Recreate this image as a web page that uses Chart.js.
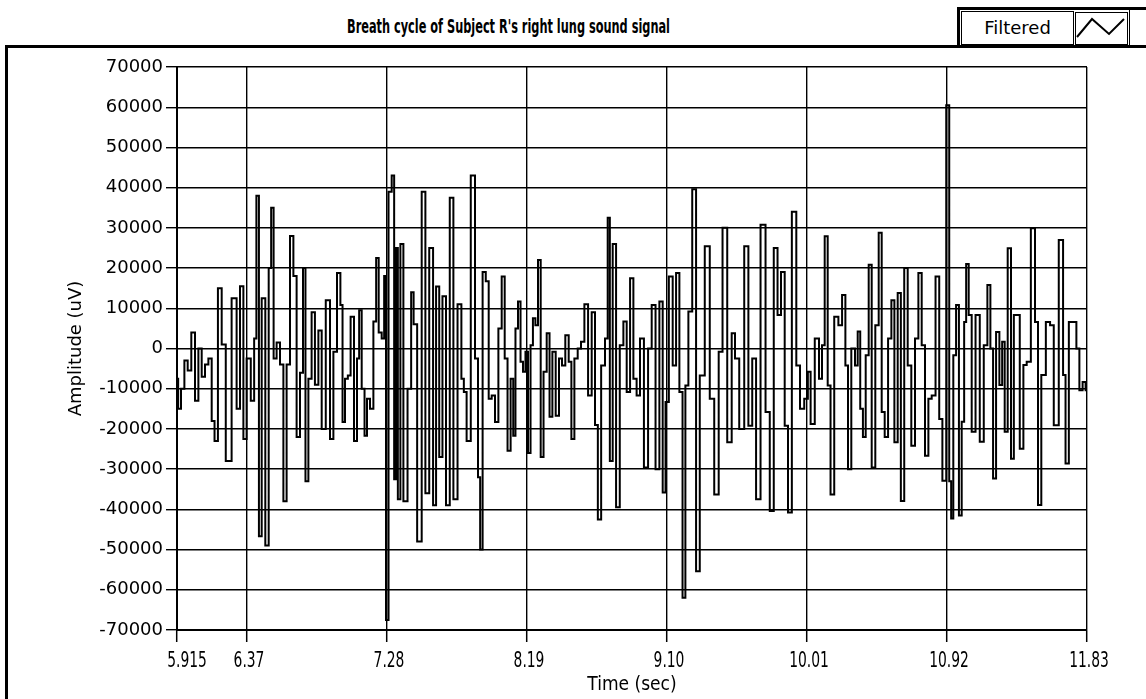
<!DOCTYPE html>
<html>
<head>
<meta charset="utf-8">
<script src="https://cdn.jsdelivr.net/npm/chart.js@4.4.1/dist/chart.umd.min.js"></script>
<style>
    html, body { margin: 0; padding: 0; background: #fff; }
    body { width: 1146px; height: 699px; position: relative; overflow: hidden; }
    #wrap { position: absolute; left: 0; top: 0; width: 1146px; height: 699px; }
    .frame { position: absolute; left: 5px; top: 45px; width: 1200px; height: 651px;
             border-left: 3px solid #000; border-top: 3px solid #000; border-bottom: 2px solid #777; }
    .legend { position: absolute; left: 957px; top: 7px; width: 200px; height: 38px;
              border-left: 3px solid #000; border-top: 3px solid #000; }
    .lg-name { position: absolute; left: 961px; top: 11px; width: 111px; height: 32px;
               border: 1px solid #000; font: 18px "DejaVu Sans", sans-serif; line-height: 32px;
               text-align: center; color: #000; }
    .lg-icon { position: absolute; left: 1075px; top: 12px; width: 51px; height: 31px; border: 1px solid #000; }
    .lg-end { position: absolute; left: 1129px; top: 10px; width: 1px; height: 35px; background: #000; }
    #title { position: absolute; left: 0; top: 0; }
</style>
</head>
<body>
<div class="frame"></div>
<svg id="title" width="1146" height="45">
    <text x="347" y="33" textLength="323" lengthAdjust="spacingAndGlyphs"
          font-family="DejaVu Sans Condensed, sans-serif" font-weight="bold" font-size="19">Breath cycle of Subject R's right lung sound signal</text>
</svg>
<div class="legend"></div>
<div class="lg-name">Filtered</div>
<div class="lg-icon">
    <svg width="51" height="31"><polyline points="1,24 16,6 33,21 48,6" fill="none" stroke="#000" stroke-width="2"/></svg>
</div>
<div class="lg-end"></div>
<div id="wrap"><canvas id="lung-chart" width="1146" height="699"></canvas></div>

<script>
// 시간 (sec) - 그림에서 읽은 꼭짓점 위치
const times = [
    5.915, 5.930, 5.952, 5.974, 5.995, 6.021, 6.043, 6.065, 6.086, 6.108, 6.130, 6.151, 6.167, 6.195, 6.216, 6.248, 6.292, 6.313, 6.336, 6.357, 6.378, 6.411, 6.422, 6.440, 6.455, 6.476, 6.502, 6.520, 6.534, 6.552, 6.573, 6.596, 6.617, 6.638, 6.661, 6.682, 6.703, 6.726, 6.742, 6.758, 6.780, 6.800, 6.823, 6.845, 6.866, 6.898,
    6.921, 6.942, 6.968, 6.986, 6.996, 7.018, 7.033, 7.054, 7.077, 7.093, 7.105, 7.126, 7.142, 7.158, 7.181, 7.202, 7.217, 7.235, 7.256, 7.267, 7.280, 7.300, 7.321, 7.332, 7.343, 7.358, 7.376, 7.397, 7.430, 7.444, 7.462, 7.490, 7.521, 7.538, 7.571, 7.588, 7.610, 7.629, 7.652, 7.675, 7.701, 7.722, 7.755, 7.772, 7.787, 7.808, 7.841, 7.863, 7.880, 7.891, 7.912,
    7.932, 7.950, 7.971, 7.993, 8.015, 8.036, 8.054, 8.073, 8.094, 8.107, 8.123, 8.140, 8.156, 8.172, 8.188, 8.205, 8.221, 8.236, 8.253, 8.270, 8.288, 8.307, 8.329, 8.344, 8.366, 8.387, 8.409, 8.426, 8.452, 8.470, 8.487, 8.509, 8.530, 8.552, 8.574, 8.600, 8.621, 8.643, 8.658, 8.686, 8.708, 8.721, 8.736, 8.758, 8.780, 8.806, 8.827, 8.849, 8.871, 8.892, 8.913,
    8.936, 8.964, 8.990, 9.011, 9.040, 9.061, 9.083, 9.098, 9.126, 9.148, 9.170, 9.191, 9.211, 9.228, 9.250, 9.278, 9.300, 9.326, 9.365, 9.391, 9.423, 9.449, 9.473, 9.510, 9.531, 9.553, 9.586, 9.618, 9.640, 9.668, 9.690, 9.726, 9.755, 9.781, 9.807, 9.830, 9.852, 9.878, 9.895, 9.928,
    9.953, 9.976, 10.008, 10.023, 10.044, 10.077, 10.099, 10.116, 10.134, 10.155, 10.171, 10.203, 10.225, 10.251, 10.268, 10.285, 10.311, 10.333, 10.346, 10.366, 10.381, 10.402, 10.420, 10.441, 10.467, 10.485, 10.506, 10.524, 10.550, 10.567, 10.589, 10.610, 10.630, 10.654, 10.675, 10.701, 10.723, 10.745, 10.766, 10.788, 10.810, 10.831, 10.860, 10.879, 10.901,
    10.929, 10.940, 10.954, 10.968, 10.990, 11.005, 11.026, 11.037, 11.052, 11.070, 11.091, 11.120, 11.146, 11.172, 11.193, 11.211, 11.228, 11.250, 11.271, 11.286, 11.304, 11.325, 11.347, 11.362, 11.380, 11.406, 11.427, 11.449, 11.481, 11.503, 11.520, 11.546, 11.579, 11.601, 11.627, 11.666, 11.683, 11.698, 11.726, 11.752, 11.770, 11.791, 11.812, 11.830
];

// 진폭 (uV) - 줄마다 times 와 같은 개수
const amplitudes = [
    -7500, -15000, -10000, -3000, -5500, 4000, -13000, 0, -7000, -4000, -2500, -18000, -23000, 15000, 1000, -28000, 12500, -15000, 15500, -22500, -2500, -13000, 2500, 38000, -46700, 12500, -49000, 20000, 35000, -2500, 1500, -4000, -38000, -4000, 28000, 18000, -22000, -6000, 20000, -33000, -7500, 9000, -9000, 4500, -20000, 12000,
    -22500, -800, 18800, 10800, -18300, -7500, -6700, 7900, -23000, -2500, 9500, -10000, -21700, -12500, -15000, 6700, 22500, 4000, 2500, 18000, -67500, 39000, 43000, -32500, 25000, -37500, 26000, -38000, -10000, 14000, 6000, -48000, 39000, -36000, 25000, -39000, 15400, -27000, 13000, -39000, 37500, -37500, 11000, -7500, -10800, -23000, 43000, -2500, -32000, -50000, 19000,
    16700, -12500, -11700, -18300, 5000, 17900, -2500, -25400, -7500, -21700, 5000, 11700, -3300, -5800, -800, -26000, 800, 7500, 5800, 22000, -27000, -5800, 3800, -17000, -800, -16700, -2500, -4200, 3300, -3300, -22500, -2500, 0, 1700, 11000, -11700, 9000, -19000, -42500, -4200, 2500, 32500, -28000, 26000, -39500, 800, 6700, -10800, 17500, -7500, -11700,
    2500, -29600, 0, 10800, -30000, 11700, -35800, -13300, 17900, -4200, 18800, -10800, -62000, -9200, 9200, 39600, -55400, -6700, 25400, -12500, -36300, -800, 30000, -23300, 3800, -2500, -20000, 25400, -19200, -2500, -37500, 30800, -15800, -40400, 25000, 8300, 19000, -19200, -40800, 34000,
    -4200, -15000, -12500, -5800, -18800, 2500, -7500, 800, 27900, -9200, -36300, 7900, 5800, 13300, -4200, -30000, 0, -4200, 4200, -15000, -22000, -1700, 20800, -29600, 5800, 28800, -15800, -22000, 2500, 12000, -23300, 13800, -37900, 20000, -4200, -24200, 2500, 18800, 800, -26700, -12500, -11700, 17900, -17500, -32900,
    60500, -33000, -42300, -1700, 10800, -41500, -18200, 6600, 21000, 8300, -20700, 8300, -23200, 800, 15800, 0, -32300, 4100, -9100, 1700, -20700, 24900, -27400, 8300, 8300, -24900, -4100, -3300, 29900, 6600, -38900, -6600, 6600, 5800, -19100, 27000, -6600, -28600, 6600, 6600, 0, -10400, -8300, -10400
];

const xTicks = [5.915, 6.37, 7.28, 8.19, 9.10, 10.01, 10.92, 11.83];
const xTickLabels = ["5.915", "6.37", "7.28", "8.19", "9.10", "10.01", "10.92", "11.83"];
const yMin = -70000, yMax = 70000, yStep = 10000;

if (times.length !== amplitudes.length) console.error("length mismatch", times.length, amplitudes.length);

// x 눈금 글자: 좁은 글꼴이 없어서 가로로 눌러서 그림
const narrowTicks = {
    id: "narrowTicks",
    afterDraw(chart) {
        const ctx = chart.ctx;
        const sx = chart.scales.x;
        ctx.save();
        ctx.fillStyle = "#000";
        ctx.font = "22px 'DejaVu Sans Condensed', sans-serif";
        ctx.textAlign = "center";
        ctx.textBaseline = "alphabetic";
        xTicks.forEach((v, i) => {
            const px = sx.getPixelForValue(v) + (i === 0 ? 10 : 2);
            ctx.save();
            ctx.translate(px, 667);
            ctx.scale(0.7, 1);
            ctx.fillText(xTickLabels[i], 0, 0);
            ctx.restore();
        });
        ctx.restore();
    }
};

function drawChart() {
    const points = times.map((t, i) => ({x: t, y: amplitudes[i]}));
    const canvas = document.querySelector("#lung-chart");

    new Chart(canvas, {
        type: "line",
        data: {
            datasets: [{
                label: "Filtered",
                data: points,
                borderColor: "#000",
                borderWidth: 2,
                pointRadius: 0,
                stepped: "middle",
                fill: false
            }]
        },
        options: {
            responsive: false,
            animation: false,
            events: [],
            layout: {padding: {left: 0, top: 67, right: 59, bottom: 0}},
            plugins: {legend: {display: false}, tooltip: {enabled: false}},
            scales: {
                x: {
                    type: "linear",
                    min: 5.915,
                    max: 11.83,
                    afterBuildTicks: s => { s.ticks = xTicks.map(v => ({value: v})); },
                    afterFit: s => { s.height = 69; },
                    ticks: {display: false, autoSkip: false, maxRotation: 0},
                    grid: {color: "#000", lineWidth: 1.4, tickLength: 12, tickWidth: 1.5},
                    border: {color: "#000", width: 2},
                    title: {
                        display: true,
                        text: "Time (sec)",
                        color: "#000",
                        font: {family: "'DejaVu Sans Condensed', sans-serif", size: 19},
                        padding: {top: 0, bottom: 3}
                    }
                },
                y: {
                    min: yMin,
                    max: yMax,
                    afterFit: s => { s.width = 177; },
                    ticks: {
                        stepSize: yStep,
                        padding: 3,
                        color: "#000",
                        font: {family: "'DejaVu Sans', sans-serif", size: 18},
                        callback: v => String(v)
                    },
                    grid: {color: "#000", lineWidth: 1.4, tickLength: 11},
                    border: {color: "#000", width: 2},
                    title: {
                        display: true,
                        text: "Amplitude (uV)",
                        color: "#000",
                        font: {family: "'DejaVu Sans', sans-serif", size: 18},
                        padding: {top: 66, bottom: 0}
                    }
                }
            }
        },
        plugins: [narrowTicks]
    });
}

drawChart();
</script>
</body>
</html>
